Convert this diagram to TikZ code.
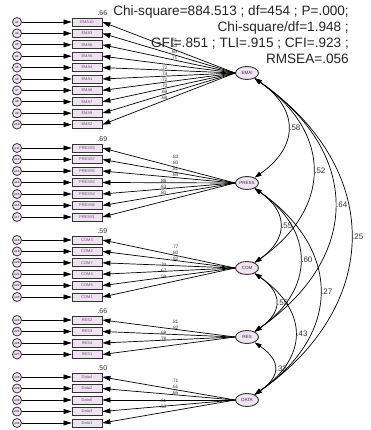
\documentclass[tikz,border=0pt]{standalone}
\usepackage{fontspec}
\setmainfont{Liberation Sans}
\usepackage{tikz}
\usetikzlibrary{arrows.meta,positioning,shapes.geometric,calc}

\definecolor{boxfill}{HTML}{EEE2F1}
\definecolor{latfill}{HTML}{F2E3F2}
\definecolor{edge}{HTML}{333333}

\tikzset{
  ind/.style={draw=edge, line width=0.8pt, fill=boxfill, minimum width=30pt, minimum height=8pt,
    inner sep=0pt, font=\fontsize{4}{4}\selectfont, text=edge!80},
  err/.style={circle, draw=edge, line width=0.8pt, fill=boxfill, minimum size=9pt, inner sep=0pt,
    font=\fontsize{3}{3}\selectfont},
  latent/.style={ellipse, draw=edge, line width=0.9pt, fill=latfill, minimum width=23pt,
    minimum height=13pt, inner sep=0pt, font=\fontsize{4.5}{5}\selectfont, text=edge},
  arr/.style={-{Triangle[length=8pt,width=5pt]}, line width=0.7pt},
  corr/.style={{Triangle[length=7pt,width=4.5pt]}-{Triangle[length=7pt,width=4.5pt]},
    line width=0.7pt, out=-35, in=35},
  lbl/.style={font=\fontsize{4.8}{5}\selectfont, text=edge, inner sep=0pt},
  clbl/.style={right, font=\fontsize{8}{8}\selectfont, text=edge, inner sep=1pt},
  rsq/.style={above=1.5pt, font=\fontsize{7}{7}\selectfont, text=edge, inner sep=0pt},
}

\begin{document}
\begin{tikzpicture}[x=1pt,y=1pt]
\useasboundingbox (0,0) rectangle (370,430);

% latent factors
\node[latent] (EMAI)  at (247,357) {EMAI};
\node[latent] (PRESS) at (247,247) {PRESS};
\node[latent] (COM)   at (247,162) {COM};
\node[latent] (RES)   at (247,93)  {RES};
\node[latent] (DATA)  at (247,30)  {DATA};

% indicators with their errors
\foreach \n [count=\i] in {EMA10,EMA3,EMA6,EMA5,EMA4,EMA1,EMA8,EMA7,EMA9,EMA2} {
  \node[ind] (\n) at (87,{419.4-11.4*\i}) {\n};
  \node[err] (e\i) at (17,{419.4-11.4*\i}) {e\i};
  \draw[arr] (e\i) -- (\n);
  \draw[arr] (EMAI.west) -- (\n.east);
}
\foreach \n [count=\i] in {PRESS3,PRESS7,PRESS5,PRESS2,PRESS4,PRESS6,PRESS1} {
  \pgfmathtruncatemacro\k{\i+10}
  \node[ind] (\n) at (87,{293.5-11.5*\i}) {\n};
  \node[err] (e\k) at (17,{293.5-11.5*\i}) {e\k};
  \draw[arr] (e\k) -- (\n);
  \draw[arr] (PRESS.west) -- (\n.east);
}
\foreach \n [count=\i] in {COM3,COM2,COM7,COM4,COM5,COM1} {
  \pgfmathtruncatemacro\k{\i+17}
  \node[ind] (\n) at (87,{201.4-11.4*\i}) {\n};
  \node[err] (e\k) at (17,{201.4-11.4*\i}) {e\k};
  \draw[arr] (e\k) -- (\n);
  \draw[arr] (COM.west) -- (\n.east);
}
\foreach \n [count=\i] in {RES2,RES3,RES4,RES1} {
  \pgfmathtruncatemacro\k{\i+23}
  \node[ind] (\n) at (87,{121.5-11.5*\i}) {\n};
  \node[err] (e\k) at (17,{121.5-11.5*\i}) {e\k};
  \draw[arr] (e\k) -- (\n);
  \draw[arr] (RES.west) -- (\n.east);
}
\foreach \n [count=\i] in {Data4,Data2,Data5,Data3,Data1} {
  \pgfmathtruncatemacro\k{\i+27}
  \node[ind] (\n) at (87,{64.5-11.5*\i}) {\n};
  \node[err] (e\k) at (17,{64.5-11.5*\i}) {e\k};
  \draw[arr] (e\k) -- (\n);
  \draw[arr] (DATA.west) -- (\n.east);
}

% squared multiple correlations
\node[rsq] at (EMA10.north east) {.66};
\node[rsq] at (PRESS3.north east) {.69};
\node[rsq] at (COM3.north east) {.59};
\node[rsq] at (RES2.north east) {.66};
\node[rsq] at (Data4.north east) {.50};

% loadings
\foreach \l [count=\i] in {.81,.83,.80,.71} \node[lbl] at (174,{396-6*\i}) {\l};
\foreach \l [count=\i] in {.72,.73,.72,.70,.69,.68} \node[lbl] at (164,{368-6*\i}) {\l};
\foreach \l [count=\i] in {.83,.80,.81,.84} \node[lbl] at (175,{279-6*\i}) {\l};
\foreach \l [count=\i] in {.86,.83,.80} \node[lbl] at (163,{255-6*\i}) {\l};
\foreach \l [count=\i] in {.77,.80,.82} \node[lbl] at (175,{189-6*\i}) {\l};
\foreach \l [count=\i] in {.70,.67,.59} \node[lbl] at (163,{171-6*\i}) {\l};
\foreach \l [count=\i] in {.81,.82} \node[lbl] at (175,{114-6*\i}) {\l};
\foreach \l [count=\i] in {.69,.78} \node[lbl] at (163,{103-6*\i}) {\l};
\foreach \l [count=\i] in {.71,.61,.65} \node[lbl] at (175,{55-6*\i}) {\l};
\foreach \l [count=\i] in {.61,.53} \node[lbl] at (163,{35-6*\i}) {\l};

% correlations between factors
\foreach \a/\b/\v/\lo in {EMAI/PRESS/.58/1.40, EMAI/COM/.52/1.32, EMAI/RES/.64/1.32,
    EMAI/DATA/.25/1.27, PRESS/COM/.55/1.42, PRESS/RES/.60/1.32, PRESS/DATA/.27/1.32,
    COM/RES/.55/1.51, COM/DATA/.43/1.39, RES/DATA/.32/1.58}
  \draw[corr, looseness=\lo] (\a) to node[clbl] {\v} (\b);

% fit indices
\node[anchor=north east, align=right, inner sep=0pt, text=edge!70!black,
  font=\fontsize{13.6}{16}\selectfont] (fit) at (349,425)
  {Chi-square=884.513 ; df=454 ; P=.000;\\
   Chi-square/df=1.948 ;\\
   GFI=.851 ; TLI=.915 ; CFI=.923 ;\\
   RMSEA=.056};
\end{tikzpicture}
\end{document}
